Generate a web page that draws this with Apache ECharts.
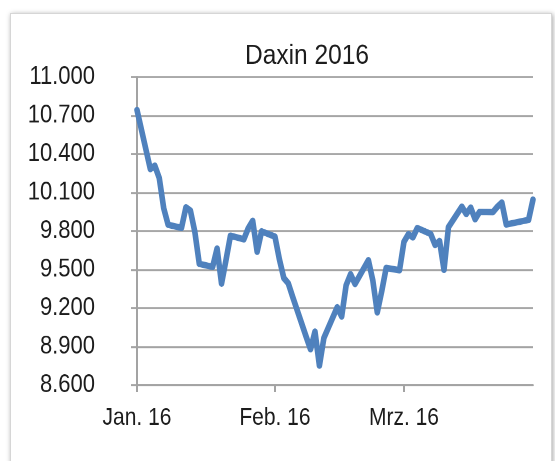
<!DOCTYPE html>
<html>
<head>
<meta charset="utf-8">
<script src="https://cdn.jsdelivr.net/npm/echarts@6/dist/echarts.min.js"></script>
<style>
  html, body { margin: 0; padding: 0; background: #fff; overflow: hidden; }
  #panel {
    position: absolute; left: 10px; top: 13px; width: 540px; height: 470px;
    border: 1px solid #d6d6d6; box-shadow: 1px 1px 5px rgba(0,0,0,0.35); background: #fff;
  }
  /* das Original ist vertikal gestreckt, daher scaleY */
  #chart {
    position: absolute; left: 0; top: 0; width: 555px; height: 401px;
    transform: scaleY(1.1496); transform-origin: 0 0;
  }
</style>
</head>
<body>
<div id="panel"></div>
<div id="chart"></div>
<script>
// DAX Schlusskurse Jan - Mrz 2016
const dates = [
  '2016-01-01', '2016-01-04', '2016-01-05', '2016-01-06', '2016-01-07', '2016-01-08',
  '2016-01-11', '2016-01-12', '2016-01-13', '2016-01-14', '2016-01-15',
  '2016-01-18', '2016-01-19', '2016-01-20', '2016-01-21', '2016-01-22',
  '2016-01-25', '2016-01-26', '2016-01-27', '2016-01-28', '2016-01-29',
  '2016-02-01', '2016-02-02', '2016-02-03', '2016-02-04', '2016-02-05',
  '2016-02-08', '2016-02-09', '2016-02-10', '2016-02-11', '2016-02-12',
  '2016-02-15', '2016-02-16', '2016-02-17', '2016-02-18', '2016-02-19',
  '2016-02-22', '2016-02-23', '2016-02-24', '2016-02-25', '2016-02-26',
  '2016-02-29', '2016-03-01', '2016-03-02', '2016-03-03', '2016-03-04',
  '2016-03-07', '2016-03-08', '2016-03-09', '2016-03-10', '2016-03-11',
  '2016-03-14', '2016-03-15', '2016-03-16', '2016-03-17', '2016-03-18',
  '2016-03-21', '2016-03-22', '2016-03-23', '2016-03-24',
  '2016-03-29', '2016-03-30'
];
const values = [
  10743, 10283, 10310, 10214, 9979, 9849,
  9825, 9985, 9960, 9794, 9545,
  9521, 9664, 9391, 9574, 9764,
  9736, 9822, 9880, 9639, 9798,
  9757, 9581, 9434, 9393, 9286,
  8979, 8879, 9017, 8752, 8967,
  9207, 9135, 9378, 9464, 9388,
  9573, 9416, 9167, 9331, 9513,
  9495, 9717, 9776, 9751, 9824,
  9778, 9692, 9723, 9498, 9831,
  9990, 9933, 9983, 9892, 9950,
  9948, 9990, 10022, 9851,
  9887, 10046
];
const xTickDates = ['2016-01-01', '2016-02-01', '2016-03-01'];
const xTickLabels = ['Jan. 16', 'Feb. 16', 'Mrz. 16'];
const xStart = '2016-01-01';
const xEnd = '2016-03-30';

// Tage seit Jahresbeginn
const dayNo = (s) => {
  const p = s.split('-');
  return Math.round((Date.UTC(+p[0], +p[1] - 1, +p[2]) - Date.UTC(2016, 0, 1)) / 86400000);
};
const tickDays = xTickDates.map(dayNo);
const gridColor = '#a3a3a3';
const textColor = '#1c1c1c';
const fontFam = "'Liberation Sans', Arial, sans-serif";

const chart = echarts.init(document.getElementById('chart'), null, { devicePixelRatio: 2 });
chart.setOption({
  animation: false,
  title: {
    text: 'Daxin 2016',
    left: 240,
    top: 31,
    textStyle: { fontFamily: fontFam, fontSize: 24.5, fontWeight: 'normal', color: textColor }
  },
  grid: { left: 137, right: 22, top: 67, bottom: 66 },
  xAxis: {
    type: 'value',
    min: dayNo(xStart),
    max: dayNo(xEnd),
    axisLine: { show: true, onZero: false, lineStyle: { color: gridColor, width: 1.8 } },
    axisTick: { show: true, length: 6, customValues: tickDays, lineStyle: { color: gridColor, width: 2 } },
    splitLine: { show: false },
    axisLabel: {
      customValues: tickDays,
      margin: 18,
      fontFamily: fontFam,
      fontSize: 21,
      color: textColor,
      formatter: (v) => {
        const i = tickDays.indexOf(v);
        return i >= 0 ? xTickLabels[i] : '';
      }
    }
  },
  yAxis: {
    type: 'value',
    min: 8600,
    max: 11000,
    interval: 300,
    axisLine: { show: true, lineStyle: { color: gridColor, width: 2 } },
    axisTick: { show: true, length: 6, lineStyle: { color: gridColor, width: 1.8 } },
    splitLine: { show: true, lineStyle: { color: gridColor, width: 1.8 } },
    axisLabel: {
      margin: 42,
      fontFamily: fontFam,
      fontSize: 22,
      color: textColor,
      formatter: (v) => (v / 1000).toFixed(3)
    }
  },
  series: [{
    type: 'line',
    data: dates.map((d, i) => [dayNo(d), values[i]]),
    showSymbol: false,
    lineStyle: { color: '#4f81bd', width: 5.6, join: 'round', cap: 'round' }
  }]
});
</script>
</body>
</html>
